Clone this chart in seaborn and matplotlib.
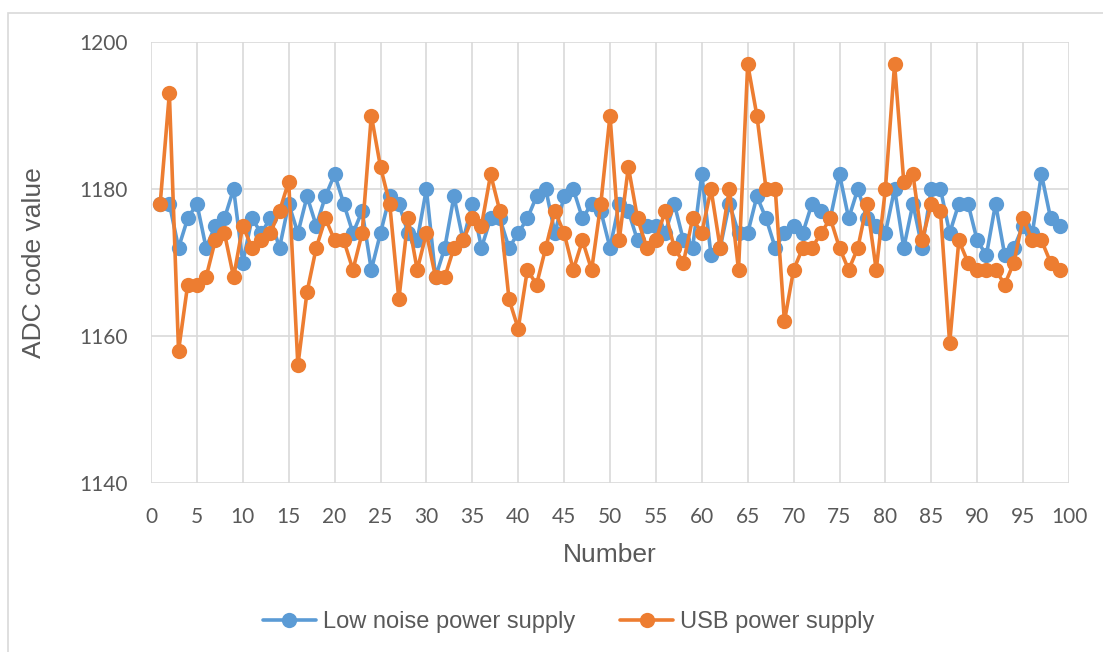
import matplotlib
matplotlib.use("Agg")
import matplotlib.pyplot as plt
import seaborn as sns
import pandas as pd
from matplotlib.patches import Rectangle

# Messwerte
number = list(range(1, 100))
low_noise = [1178, 1178, 1172, 1176, 1178, 1172, 1175, 1176, 1180, 1170,
             1176, 1174, 1176, 1172, 1178, 1174, 1179, 1175, 1179, 1182,
             1178, 1174, 1177, 1169, 1174, 1179, 1178, 1174, 1173, 1180,
             1168, 1172, 1179, 1173, 1178, 1172, 1176, 1176, 1172, 1174,
             1176, 1179, 1180, 1174, 1179, 1180, 1176, 1178, 1177, 1172,
             1178, 1177, 1173, 1175, 1175, 1174, 1178, 1173, 1172, 1182,
             1171, 1172, 1178, 1174, 1174, 1179, 1176, 1172, 1174, 1175,
             1174, 1178, 1177, 1176, 1182, 1176, 1180, 1176, 1175, 1174,
             1180, 1172, 1178, 1172, 1180, 1180, 1174, 1178, 1178, 1173,
             1171, 1178, 1171, 1172, 1175, 1174, 1182, 1176, 1175]
usb = [1178, 1193, 1158, 1167, 1167, 1168, 1173, 1174, 1168, 1175,
       1172, 1173, 1174, 1177, 1181, 1156, 1166, 1172, 1176, 1173,
       1173, 1169, 1174, 1190, 1183, 1178, 1165, 1176, 1169, 1174,
       1168, 1168, 1172, 1173, 1176, 1175, 1182, 1177, 1165, 1161,
       1169, 1167, 1172, 1177, 1174, 1169, 1173, 1169, 1178, 1190,
       1173, 1183, 1176, 1172, 1173, 1177, 1172, 1170, 1176, 1174,
       1180, 1172, 1180, 1169, 1197, 1190, 1180, 1180, 1162, 1169,
       1172, 1172, 1174, 1176, 1172, 1169, 1172, 1178, 1169, 1180,
       1197, 1181, 1182, 1173, 1178, 1177, 1159, 1173, 1170, 1169,
       1169, 1169, 1167, 1170, 1176, 1173, 1173, 1170, 1169]
series_names = ["Low noise power supply", "USB power supply"]
colors = ["#5B9BD5", "#ED7D31"]
x_ticks = list(range(0, 101, 5))
y_ticks = [1140, 1160, 1180, 1200]

df = pd.DataFrame({
    "Number": number * 2,
    "value": low_noise + usb,
    "series": [series_names[0]] * len(number) + [series_names[1]] * len(number),
})

sns.set_style("white")
plt.rcParams["font.family"] = ["Liberation Sans", "DejaVu Sans"]

fig = plt.figure(figsize=(11.03, 6.52), dpi=100)
ax = fig.add_axes([151 / 1103, 1 - 483 / 652, 918 / 1103, 441 / 652])

sns.lineplot(data=df, x="Number", y="value", hue="series", palette=colors,
             marker="o", markersize=11, markeredgewidth=0, linewidth=2.6,
             ax=ax, legend=True)

ax.set_xlim(0, 100)
ax.set_ylim(1140, 1200)
ax.set_xticks(x_ticks)
ax.set_yticks(y_ticks)
ax.grid(True, color="#D9D9D9", linewidth=1.2)
ax.set_axisbelow(True)
for s in ax.spines.values():
    s.set_visible(False)
ax.tick_params(length=0, labelsize=15, labelcolor="#595959")
ax.tick_params(axis="x", pad=17)
ax.tick_params(axis="y", pad=17)
for lab in ax.get_xticklabels() + ax.get_yticklabels():
    lab.set_fontfamily(["Lato", "DejaVu Sans"])
ax.set_xlabel("Number", fontsize=19, color="#595959", labelpad=12)
ax.set_ylabel("ADC code value", fontsize=19, color="#595959", labelpad=24)

leg = ax.legend(loc="center", bbox_to_anchor=(0.455, -0.315), ncol=2,
                frameon=False, fontsize=17, handlelength=2.25,
                handletextpad=0.3, columnspacing=1.9)
for t in leg.get_texts():
    t.set_color("#595959")

# Rahmen um die Grafik
fig.patches.append(Rectangle((8 / 1103, -0.05), 1.1, 1 - 13 / 652 + 0.05,
                             transform=fig.transFigure, fill=False,
                             edgecolor="#D9D9D9", linewidth=1.2))

fig.savefig("out.png", dpi=100)
